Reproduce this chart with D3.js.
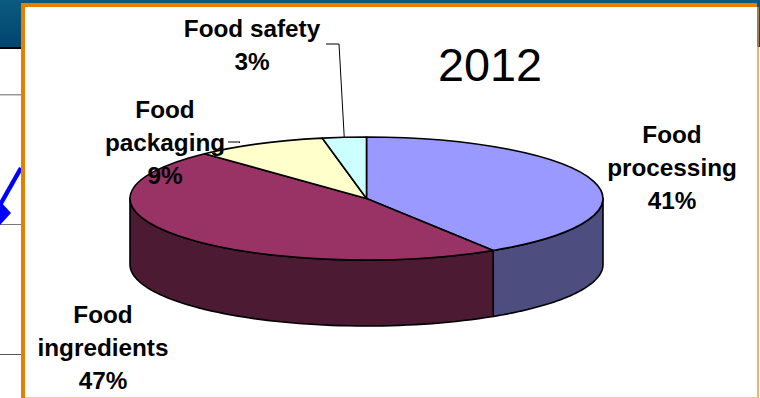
<!DOCTYPE html>
<html><head><meta charset="utf-8">
<script src="https://cdn.jsdelivr.net/npm/d3@7"></script>
<style>html,body{margin:0;padding:0;background:#fff}svg{display:block}text{font-family:"Liberation Sans",Arial,sans-serif;fill:#000}</style>
</head><body><svg id="c" width="760" height="398"></svg>
<script>
const categories = ["Food processing","Food ingredients","Food packaging","Food safety"];
const values = [41,47,9,3];
const topColors = ["#9999ff","#993366","#ffffcc","#ccffff"];
const sideColors = ["#4d4d80","#4d1a33","#808066","#668080"];
const chartTitle = "2012";
const labelLines = [["Food","processing","41%"],["Food","ingredients","47%"],["Food","packaging","9%"],["Food safety","3%"]];
const labelAnchors = [[672,143],[103,323],[165,118],[252,37]];

const W=760,H=398,cx=366.5,cy=198.5,rx=236.5,ry=61.5,depth=66;
const svg=d3.select("#c");

// backdrop slide remnants
const defs=svg.append("defs");
const g=defs.append("linearGradient").attr("id","hdr").attr("x1",0).attr("x2",0).attr("y1",0).attr("y2",1);
g.append("stop").attr("offset",0).attr("stop-color","#0b5a80");
g.append("stop").attr("offset",1).attr("stop-color","#00456f");
svg.append("rect").attr("width",W).attr("height",47).attr("fill","url(#hdr)");
svg.append("rect").attr("y",47).attr("width",21).attr("height",2).attr("fill","#000");
svg.append("rect").attr("y",94).attr("width",21).attr("height",1.5).attr("fill","#999");
svg.append("rect").attr("y",224).attr("width",21).attr("height",1).attr("fill","#777");
svg.append("rect").attr("y",354).attr("width",21).attr("height",1).attr("fill","#555");
svg.append("path").attr("d","M0,205L21,168").attr("stroke","#0000ff").attr("stroke-width",4.5).attr("fill","none");
svg.append("path").attr("d","M-12,213L0,201L11,213L0,225Z").attr("fill","#0000ff");

// frame
svg.append("rect").attr("x",23).attr("y",5).attr("width",734).attr("height",396).attr("fill","#fff");
svg.append("path").attr("d","M23,398V5H757").attr("fill","none").attr("stroke","#e67e00").attr("stroke-width",4);
svg.append("path").attr("d","M758,7V398").attr("stroke","#e8942a").attr("stroke-width",1.4);
svg.append("path").attr("d","M25,397.5H758").attr("stroke","#f2c898").attr("stroke-width",1);

// pie
const arcs=d3.pie().sort(null).value(d=>d)(values);
const ex=a=>cx+rx*Math.sin(a), ey=a=>cy-ry*Math.cos(a);
const sideG=svg.append("g");
const stroke={stroke:"#000","stroke-width":1.6,"stroke-linejoin":"round"};
arcs.forEach((a,i)=>{
  const s=Math.max(a.startAngle,Math.PI/2), e=Math.min(a.endAngle,3*Math.PI/2);
  if(e<=s) return;
  const n=60, ang=d3.range(n+1).map(k=>s+(e-s)*k/n);
  const pts=ang.map(t=>[ex(t),ey(t)]).concat(ang.slice().reverse().map(t=>[ex(t),ey(t)+depth]));
  sideG.append("path").attr("d",d3.line()(pts)+"Z").attr("fill",sideColors[i])
    .attr("stroke","#000").attr("stroke-width",1.6).attr("stroke-linejoin","round");
});
const arc=d3.arc().innerRadius(0).outerRadius(rx);
const topG=svg.append("g").attr("transform",`translate(${cx},${cy}) scale(1,${ry/rx})`);
topG.selectAll("path").data(arcs).join("path").attr("d",arc)
  .attr("fill",(d,i)=>topColors[i]).attr("stroke","#000").attr("stroke-width",1.6)
  .attr("vector-effect","non-scaling-stroke").attr("stroke-linejoin","round");

// leaders
const mid=i=>(arcs[i].startAngle+arcs[i].endAngle)/2;
svg.append("path").attr("d",`M326,44H339L${ex(mid(3))},${ey(mid(3))}`).attr("fill","none").attr("stroke","#000").attr("stroke-width",1);
svg.append("path").attr("d",`M228,142H240L${ex(mid(2))-20},${ey(mid(2))-1}`).attr("fill","none").attr("stroke","#000").attr("stroke-width",1);

// labels
svg.append("text").attr("x",490).attr("y",81).attr("text-anchor","middle").attr("font-size",46.8).text(chartTitle);
labelLines.forEach((lines,i)=>{
  const t=svg.append("text").attr("text-anchor","middle").attr("font-weight","bold").attr("font-size",24.3);
  lines.forEach((l,k)=>t.append("tspan").attr("x",labelAnchors[i][0]).attr("y",labelAnchors[i][1]+k*33).text(l));
});
</script></body></html>
